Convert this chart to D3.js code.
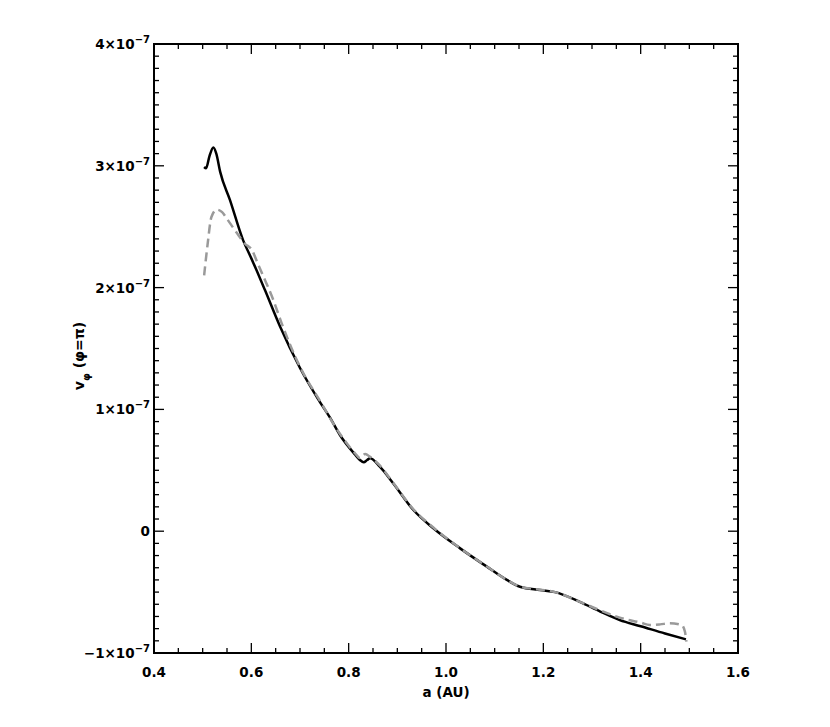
<!DOCTYPE html>
<html><head><meta charset="utf-8">
<script src="https://cdn.jsdelivr.net/npm/d3@7"></script>
<style>body{margin:0;background:#fff}</style>
</head><body>
<svg id="c" width="830" height="727"></svg>
<script>
// x values (AU) and v_phi values (units of 1e-7)
const solidX = [0.503,0.507,0.514,0.522,0.528,0.536,0.556,0.583,0.600,0.611,0.628,0.659,0.700,0.741,0.762,0.782,0.813,0.823,0.831,0.838,0.844,0.864,0.891,0.933,0.974,1.029,1.084,1.125,1.152,1.193,1.224,1.275,1.317,1.357,1.400,1.450,1.493];
const solidY = [2.99,2.98,3.08,3.15,3.10,2.95,2.72,2.39,2.24,2.14,1.98,1.68,1.34,1.06,0.93,0.79,0.63,0.585,0.566,0.585,0.598,0.53,0.396,0.174,0.024,-0.141,-0.291,-0.40,-0.456,-0.483,-0.50,-0.58,-0.66,-0.73,-0.78,-0.84,-0.888];
const dashX = [0.503,0.510,0.518,0.529,0.540,0.549,0.570,0.587,0.601,0.613,0.625,0.645,0.662,0.700,0.741,0.782,0.813,0.823,0.834,0.844,0.864,0.891,0.933,0.974,1.029,1.084,1.125,1.152,1.193,1.224,1.275,1.317,1.357,1.400,1.419,1.440,1.460,1.484,1.491,1.494];
const dashY = [2.10,2.35,2.58,2.64,2.62,2.57,2.45,2.36,2.31,2.20,2.09,1.90,1.71,1.35,1.07,0.80,0.64,0.60,0.634,0.61,0.54,0.40,0.18,0.03,-0.14,-0.29,-0.40,-0.455,-0.48,-0.50,-0.58,-0.65,-0.71,-0.75,-0.77,-0.765,-0.756,-0.77,-0.825,-0.907];
const xTicks = [0.4,0.6,0.8,1.0,1.2,1.4,1.6];
const xTickLabels = ["0.4","0.6","0.8","1.0","1.2","1.4","1.6"];
const yTicks = [-1,0,1,2,3,4];
const yTickLabels = ["\u22121","0","1","2","3","4"];

const svg = d3.select("#c");
const L=154,R=738,T=44,B=653;
const x = d3.scaleLinear().domain([0.4,1.6]).range([L,R]);
const y = d3.scaleLinear().domain([-1,4]).range([B,T]);
const font = "'DejaVu Sans', Arial, sans-serif";

// minor ticks
const xMinor = d3.range(0.4,1.6001,0.05);
const yMinor = d3.range(-1,4.0001,0.1);
const g = svg.append("g").attr("stroke","#000").attr("stroke-width",1.3);
xMinor.forEach(v=>{
  const major = xTicks.some(t=>Math.abs(t-v)<1e-6);
  const len = major?10:5;
  g.append("line").attr("x1",x(v)).attr("x2",x(v)).attr("y1",B).attr("y2",B-len);
  g.append("line").attr("x1",x(v)).attr("x2",x(v)).attr("y1",T).attr("y2",T+len);
});
yMinor.forEach(v=>{
  const major = yTicks.some(t=>Math.abs(t-v)<1e-6);
  const len = major?10:5;
  g.append("line").attr("x1",L).attr("x2",L+len).attr("y1",y(v)).attr("y2",y(v));
  g.append("line").attr("x1",R).attr("x2",R-len).attr("y1",y(v)).attr("y2",y(v));
});

// data lines
const line = d3.line().x(d=>x(d[0])).y(d=>y(d[1])).curve(d3.curveMonotoneX);
const dashData = dashX.map((v,i)=>[v,dashY[i]]);
const solidData = solidX.map((v,i)=>[v,solidY[i]]);
svg.append("path").datum(solidData).attr("d",line).attr("fill","none").attr("stroke","#000").attr("stroke-width",2.5);
svg.append("path").datum(dashData).attr("d",line).attr("fill","none").attr("stroke","#9a9a9a").attr("stroke-width",2.5).attr("stroke-dasharray","9,5");

// frame
svg.append("rect").attr("x",L).attr("y",T).attr("width",R-L).attr("height",B-T).attr("fill","none").attr("stroke","#000").attr("stroke-width",2);

// x labels
xTicks.forEach((v,i)=>{
  svg.append("text").attr("x",x(v)).attr("y",B+24).attr("text-anchor","middle")
    .attr("font-family",font).attr("font-weight","bold").attr("font-size",13.5).text(xTickLabels[i]);
});
// y labels
yTicks.forEach((v,i)=>{
  const t = svg.append("text").attr("x",L-4).attr("y",y(v)+5).attr("text-anchor","end")
    .attr("font-family",font).attr("font-weight","bold").attr("font-size",13.5);
  if (v===0){ t.text("0"); }
  else {
    t.append("tspan").text(yTickLabels[i]+"\u00d710");
    t.append("tspan").attr("dy",-6).attr("font-size",10).text("\u22127");
  }
});
// axis titles
svg.append("text").attr("x",446).attr("y",697).attr("text-anchor","middle")
  .attr("font-family",font).attr("font-weight","bold").attr("font-size",13.5).text("a (AU)");
const yt = svg.append("text").attr("transform","translate(84,356) rotate(-90)").attr("text-anchor","middle")
  .attr("font-family",font).attr("font-weight","bold").attr("font-size",14);
yt.append("tspan").text("v");
yt.append("tspan").attr("dy",6).attr("font-size",10).text("\u03c6");
yt.append("tspan").attr("dy",-6).text(" (\u03c6=\u03c0)");
</script>
</body></html>
